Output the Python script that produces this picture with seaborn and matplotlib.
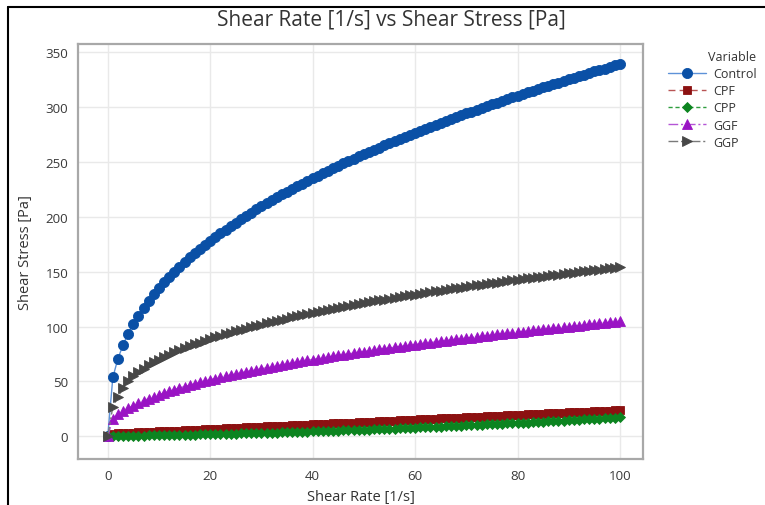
import matplotlib
matplotlib.use("Agg")
import matplotlib.pyplot as plt
import seaborn as sns
import pandas as pd
from matplotlib.lines import Line2D

# ---------------- data ----------------
shear_rate = list(range(0, 101))

control = [0, 53.7, 70.9, 83.3, 93.5, 102.2, 110.0, 117.0, 123.4, 129.3, 134.9,
           140.1, 145.1, 149.8, 154.3, 158.6, 162.8, 166.8, 170.6, 174.4, 178.0,
           181.5, 184.9, 188.2, 191.5, 194.6, 197.7, 200.7, 203.6, 206.5, 209.3,
           212.1, 214.8, 217.5, 220.1, 222.6, 225.2, 227.7, 230.1, 232.5, 234.9,
           237.2, 239.5, 241.7, 244.0, 246.2, 248.3, 250.5, 252.6, 254.7, 256.8,
           258.8, 260.8, 262.8, 264.8, 266.8, 268.7, 270.6, 272.5, 274.4, 276.2,
           278.1, 279.8, 281.6, 283.4, 285.2, 287.0, 288.7, 290.4, 292.1, 293.8,
           295.5, 297.1, 298.8, 300.4, 302.0, 303.6, 305.2, 306.8, 308.4, 309.9,
           311.4, 313.0, 314.5, 316.0, 317.5, 319.0, 320.5, 321.9, 323.4, 324.8,
           326.3, 327.7, 329.1, 330.5, 332.0, 333.3, 334.7, 336.1, 337.5, 338.8]

cpf = [0, 2.6, 2.8, 3.0, 3.3, 3.5, 3.7, 3.9, 4.1, 4.3, 4.6,
       4.8, 5.0, 5.2, 5.4, 5.6, 5.8, 6.1, 6.3, 6.5, 6.7,
       6.9, 7.1, 7.3, 7.6, 7.8, 8.0, 8.2, 8.4, 8.6, 8.9,
       9.1, 9.3, 9.5, 9.7, 9.9, 10.1, 10.4, 10.6, 10.8, 11.0,
       11.2, 11.4, 11.6, 11.9, 12.1, 12.3, 12.5, 12.7, 12.9, 13.2,
       13.4, 13.6, 13.8, 14.0, 14.2, 14.4, 14.7, 14.9, 15.1, 15.3,
       15.5, 15.7, 15.9, 16.2, 16.4, 16.6, 16.8, 17.0, 17.2, 17.5,
       17.7, 17.9, 18.1, 18.3, 18.5, 18.7, 19.0, 19.2, 19.4, 19.6,
       19.8, 20.0, 20.2, 20.5, 20.7, 20.9, 21.1, 21.3, 21.5, 21.8,
       22.0, 22.2, 22.4, 22.6, 22.8, 23.0, 23.3, 23.5, 23.7, 23.9]

cpp = [0, 0.4, 0.4, 0.5, 0.6, 0.6, 0.7, 0.8, 0.9, 1.0, 1.0,
       1.1, 1.2, 1.3, 1.4, 1.5, 1.6, 1.7, 1.8, 1.9, 2.0,
       2.1, 2.2, 2.3, 2.4, 2.6, 2.7, 2.8, 2.9, 3.0, 3.2,
       3.3, 3.4, 3.6, 3.7, 3.8, 4.0, 4.1, 4.3, 4.4, 4.6,
       4.7, 4.9, 5.0, 5.2, 5.3, 5.5, 5.7, 5.8, 6.0, 6.2,
       6.3, 6.5, 6.7, 6.9, 7.0, 7.2, 7.4, 7.6, 7.8, 8.0,
       8.2, 8.4, 8.6, 8.8, 9.0, 9.2, 9.4, 9.6, 9.8, 10.0,
       10.2, 10.4, 10.7, 10.9, 11.1, 11.3, 11.6, 11.8, 12.0, 12.3,
       12.5, 12.7, 13.0, 13.2, 13.5, 13.7, 14.0, 14.2, 14.5, 14.7,
       15.0, 15.2, 15.5, 15.8, 16.0, 16.3, 16.6, 16.9, 17.1, 17.4]

ggf = [0, 16.0, 20.0, 23.0, 25.7, 28.0, 30.4, 32.5, 34.5, 36.3, 38.0,
       39.6, 41.2, 42.7, 44.1, 45.4, 46.7, 48.0, 49.2, 50.4, 51.6,
       52.7, 53.8, 54.8, 55.9, 56.9, 57.9, 58.8, 59.8, 60.7, 61.6,
       62.5, 63.4, 64.3, 65.1, 66.0, 66.8, 67.6, 68.4, 69.2, 70.0,
       70.7, 71.5, 72.2, 72.9, 73.7, 74.4, 75.1, 75.8, 76.5, 77.2,
       77.8, 78.5, 79.2, 79.8, 80.5, 81.1, 81.8, 82.4, 83.0, 83.6,
       84.2, 84.8, 85.4, 86.0, 86.6, 87.2, 87.8, 88.4, 88.9, 89.5,
       90.0, 90.6, 91.2, 91.7, 92.2, 92.8, 93.3, 93.8, 94.4, 94.9,
       95.4, 95.9, 96.4, 97.0, 97.5, 98.0, 98.5, 99.0, 99.5, 99.9,
       100.4, 100.9, 101.4, 101.9, 102.4, 102.8, 103.3, 103.8, 104.2, 104.7]

ggp = [0, 27.0, 36.0, 44.0, 50.8, 55.1, 58.6, 61.8, 64.7, 67.3, 69.8,
       72.2, 74.3, 76.4, 78.4, 80.3, 82.0, 83.8, 85.4, 87.0, 88.6,
       90.1, 91.5, 92.9, 94.3, 95.6, 96.9, 98.2, 99.4, 100.6, 101.8,
       102.9, 104.1, 105.2, 106.3, 107.3, 108.4, 109.4, 110.4, 111.4, 112.4,
       113.3, 114.2, 115.2, 116.1, 117.0, 117.9, 118.7, 119.6, 120.4, 121.3,
       122.1, 122.9, 123.7, 124.5, 125.3, 126.1, 126.9, 127.6, 128.4, 129.1,
       129.8, 130.6, 131.3, 132.0, 132.7, 133.4, 134.1, 134.8, 135.4, 136.1,
       136.8, 137.4, 138.1, 138.7, 139.4, 140.0, 140.6, 141.3, 141.9, 142.5,
       143.1, 143.7, 144.3, 144.9, 145.5, 146.1, 146.7, 147.2, 147.8, 148.4,
       148.9, 149.5, 150.1, 150.6, 151.1, 151.7, 152.2, 152.8, 153.3, 153.8]

series_names = ["Control", "CPF", "CPP", "GGF", "GGP"]
series_values = [control, cpf, cpp, ggf, ggp]

x_ticks = [0, 20, 40, 60, 80, 100]
y_ticks = [0, 50, 100, 150, 200, 250, 300, 350]

# ---------------- styling ----------------
styles = {
    "Control": dict(line="#5d92d8", mk="#0a50a6", marker="o", ms=7.3, ls="-"),
    "CPF": dict(line="#b85454", mk="#8c1111", marker="s", ms=6.3, ls=(0, (5, 3))),
    "CPP": dict(line="#2e9e3e", mk="#0c8420", marker="D", ms=5.5, ls=(0, (3, 2))),
    "GGF": dict(line="#b455d6", mk="#9a14c4", marker="^", ms=7.2, ls=(0, (7, 2, 1.5, 2))),
    "GGP": dict(line="#7a7a7a", mk="#474747", marker=">", ms=7.2, ls=(0, (7, 2, 1.5, 2, 1.5, 2))),
}

sns.set_theme(style="whitegrid")
plt.rcParams['font.family'] = ['Open Sans', 'DejaVu Sans']

fig = plt.figure(figsize=(7.65, 5.06), dpi=100)
W, H = 765, 506
ax = fig.add_axes([78 / W, 1 - 460 / H, (643 - 78) / W, (460 - 45) / H])

for name, vals in zip(series_names, series_values):
    st = styles[name]
    df = pd.DataFrame({"Shear Rate": shear_rate, "Shear Stress": vals})
    sns.lineplot(data=df, x="Shear Rate", y="Shear Stress", ax=ax,
                 color=st["line"], marker=st["marker"], markersize=st["ms"],
                 markerfacecolor=st["mk"], markeredgecolor=st["mk"],
                 markeredgewidth=0.6, linewidth=1.0, linestyle=st["ls"],
                 errorbar=None, legend=False)

ax.set_xlim(-5.8, 104.5)
ax.set_ylim(-20.5, 357)
ax.set_xticks(x_ticks)
ax.set_yticks(y_ticks)
ax.grid(True, color="#e9e9e9", linewidth=1.0)
for sp in ax.spines.values():
    sp.set_color("#a8a8a8")
    sp.set_linewidth(1.6)
ax.tick_params(axis="both", direction="out", length=4, width=1, color="#a8a8a8",
               labelsize=9.6, labelcolor="#3a3a3a", pad=3)
ax.set_xlabel("Shear Rate [1/s]", fontsize=10.5, color="#333333", labelpad=5)
ax.set_ylabel("Shear Stress [Pa]", fontsize=10.5, color="#333333", labelpad=9)

fig.text(391 / W, 1 - 20 / H, "Shear Rate [1/s] vs Shear Stress [Pa]",
         ha="center", va="center", fontsize=15, color="#333333")

handles = ax.get_lines()[:len(series_names)]
leg = fig.legend(handles, series_names, title="Variable",
                 loc="upper left", bbox_to_anchor=(668 / W, 1 - 51 / H),
                 frameon=False, fontsize=9.0, title_fontsize=9.0,
                 handlelength=3.0, handletextpad=0.6, labelspacing=0.33,
                 borderpad=0, borderaxespad=0, alignment="right")
for t in leg.get_texts():
    t.set_color("#333333")
leg.get_title().set_color("#333333")

# screenshot frame
fig.add_artist(Line2D([8 / W, 8 / W], [0, 1 - 8 / H], transform=fig.transFigure,
                      color="black", linewidth=1.5))
fig.add_artist(Line2D([8 / W, 1], [1 - 8 / H, 1 - 8 / H], transform=fig.transFigure,
                      color="black", linewidth=1.5))

fig.savefig("out.png", dpi=100)
